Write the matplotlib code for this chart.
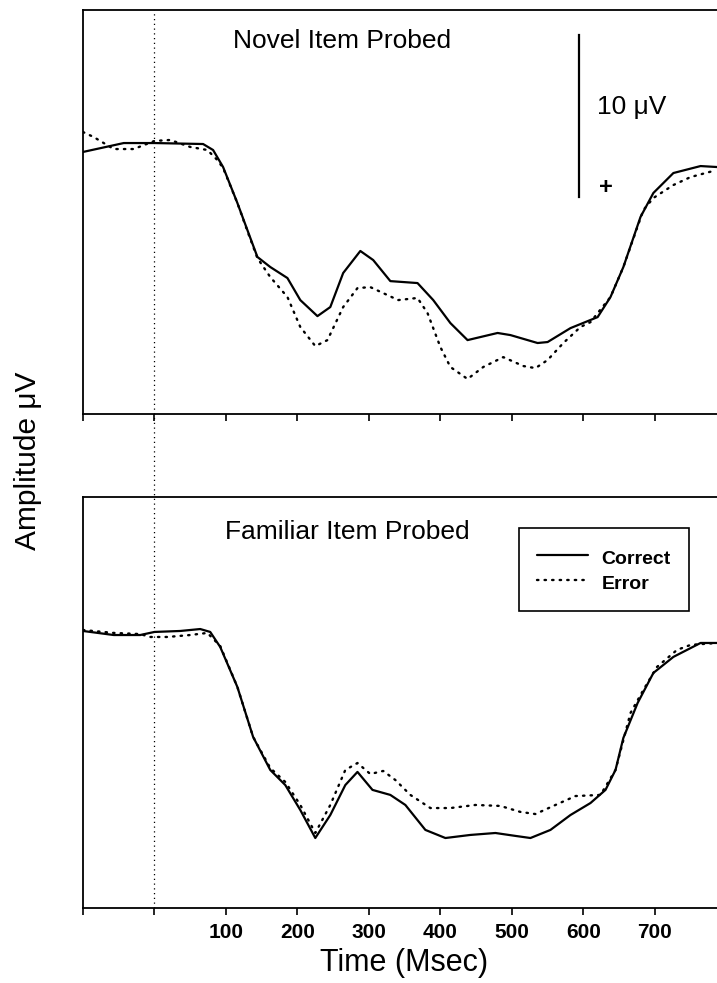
import matplotlib
matplotlib.use("Agg")
import matplotlib.pyplot as plt
from matplotlib.lines import Line2D

plt.rcParams['font.family'] = ['Liberation Sans', 'DejaVu Sans']

# ---- ERP waveforms (time in ms, amplitude in microvolts, positive plotted down) ----
novel_correct_t = [-100, -43, 0, 68, 82, 96, 116, 130, 144, 162, 186, 204, 228, 246,
                   264, 288, 306, 330, 368, 390, 414, 438, 480, 498, 536, 550, 582,
                   620, 638, 656, 680, 698, 726, 764, 787]
novel_correct_uv = [0.43, -0.12, -0.12, -0.06, 0.31, 1.36, 3.58, 5.25, 6.91, 7.53, 8.21,
                    9.57, 10.56, 10.0, 7.90, 6.54, 7.10, 8.40, 8.52, 9.57, 10.99, 12.04,
                    11.60, 11.73, 12.22, 12.16, 11.30, 10.62, 9.38, 7.53, 4.44, 2.96,
                    1.73, 1.30, 1.36]

novel_error_t = [-100, -85, -57, -29, 0, 22, 50, 74, 88, 96, 116, 130, 144, 162, 186,
                 204, 225, 242, 264, 284, 302, 320, 341, 368, 382, 400, 414, 438, 460,
                 488, 516, 533, 550, 572, 596, 610, 638, 656, 684, 698, 726, 750, 782]
novel_error_uv = [-0.80, -0.49, 0.25, 0.25, -0.25, -0.31, 0.12, 0.31, 0.93, 1.42, 3.58,
                  5.31, 6.98, 8.15, 9.38, 11.23, 12.41, 12.04, 10.0, 8.83, 8.77, 9.14,
                  9.57, 9.44, 10.37, 12.47, 13.70, 14.44, 13.70, 13.09, 13.64, 13.77,
                  13.27, 12.22, 11.23, 10.93, 9.38, 7.53, 4.01, 3.27, 2.47, 1.98, 1.60]

familiar_correct_t = [-100, -57, -20, 0, 36, 64, 78, 92, 116, 138, 162, 183, 204, 225,
                      246, 267, 284, 305, 330, 351, 379, 407, 442, 477, 505, 526, 554,
                      582, 610, 631, 645, 656, 676, 698, 726, 764, 787]
familiar_correct_uv = [0.0, 0.25, 0.25, 0.06, 0.0, -0.12, 0.06, 0.99, 3.46, 6.54, 8.58,
                       9.51, 11.05, 12.78, 11.36, 9.51, 8.70, 9.81, 10.12, 10.74, 12.28,
                       12.78, 12.59, 12.47, 12.65, 12.78, 12.28, 11.36, 10.62, 9.81,
                       8.58, 6.60, 4.44, 2.59, 1.60, 0.74, 0.74]

familiar_error_t = [-100, -57, -20, -6, 18, 50, 74, 92, 116, 138, 162, 183, 204, 225,
                    246, 267, 284, 302, 320, 337, 358, 386, 414, 449, 484, 512, 533,
                    561, 589, 624, 645, 666, 684, 703, 731, 750, 787]
familiar_error_uv = [-0.06, 0.12, 0.19, 0.37, 0.37, 0.25, 0.12, 0.93, 3.46, 6.54, 8.46,
                     9.32, 10.74, 12.47, 10.74, 8.58, 8.15, 8.83, 8.64, 9.20, 10.12,
                     10.93, 10.93, 10.74, 10.80, 11.17, 11.30, 10.74, 10.19, 10.12,
                     8.58, 5.06, 3.64, 2.22, 1.17, 0.86, 0.74]

time_ticks = [-100, 0, 100, 200, 300, 400, 500, 600, 700]
time_tick_labels = ['', '', '100', '200', '300', '400', '500', '600', '700']
scale_bar_uv = 10

W, H = 717, 983
fig = plt.figure(figsize=(W / 100, H / 100), dpi=100)


def box(x0, y0, x1, y1):
    return [x0 / W, 1 - y1 / H, (x1 - x0) / W, (y1 - y0) / H]


ax_top = fig.add_axes(box(83, 10, 717, 414))
ax_bot = fig.add_axes(box(83, 497, 717, 908))

solid_kw = dict(color='black', lw=1.6, solid_capstyle='round', solid_joinstyle='round')
dot_kw = dict(color='black', lw=1.7, linestyle=(0, (0.6, 2.6)), dash_capstyle='round')

ax_top.plot(novel_correct_t, novel_correct_uv, **solid_kw)
ax_top.plot(novel_error_t, novel_error_uv, **dot_kw)
l_cor, = ax_bot.plot(familiar_correct_t, familiar_correct_uv, label='Correct', **solid_kw)
l_err, = ax_bot.plot(familiar_error_t, familiar_error_uv, label='Error', **dot_kw)

for ax, ylim in ((ax_top, (16.6, -8.33)), (ax_bot, (17.1, -8.27))):
    ax.set_xlim(-100, 787)
    ax.set_ylim(*ylim)
    ax.set_yticks([])
    ax.set_xticks(time_ticks)
    ax.spines['right'].set_visible(False)
    for s in ('left', 'top', 'bottom'):
        ax.spines[s].set_linewidth(1.3)
    ax.tick_params(axis='x', direction='out', length=5, width=1.2, pad=6)

ax_top.set_xticklabels([])
ax_bot.set_xticklabels(time_tick_labels, fontsize=15, fontweight='bold')

# calibration bar: 10 microvolts, positive down
bar_x = 594
ax_top.plot([bar_x, bar_x], [-6.8, -6.8 + scale_bar_uv], color='black', lw=1.6)

fig.text(233 / W, 1 - 41 / H, 'Novel Item Probed', fontsize=19, va='center', ha='left')
fig.text(225 / W, 1 - 532 / H, 'Familiar Item Probed', fontsize=19, va='center', ha='left')
fig.text(597 / W, 1 - 107 / H, '10 \u03bcV', fontsize=19, va='center', ha='left')
fig.text(606 / W, 1 - 188 / H, '+', fontsize=17, fontweight='bold', va='center', ha='center')
fig.text(28 / W, 1 - 461 / H, 'Amplitude \u03bcV', fontsize=21.5, rotation=90,
         va='center', ha='center')
fig.text(404 / W, 1 - 963 / H, 'Time (Msec)', fontsize=22, va='center', ha='center')

leg = ax_bot.legend(handles=[l_cor, l_err], loc='upper left',
                    bbox_to_anchor=(519 / W, 1 - 528 / H), bbox_transform=fig.transFigure,
                    frameon=True, fancybox=False, edgecolor='black', framealpha=1,
                    prop=dict(weight='bold', size=14), handlelength=2.6, handleheight=1.3,
                    borderpad=0.95, labelspacing=0.2, borderaxespad=0, handletextpad=0.7)
leg.get_frame().set_linewidth(1.2)

# stimulus onset marker running through both panels
fig.canvas.draw()
x_disp = ax_top.transData.transform((0, 0))[0]
xf = fig.transFigure.inverted().transform((x_disp, 0))[0]
y_lo = ax_bot.get_position().y0
y_hi = ax_top.get_position().y1
fig.add_artist(Line2D([xf, xf], [y_lo, y_hi], transform=fig.transFigure,
                      color='black', lw=0.9, linestyle=(0, (1, 2.8))))

fig.savefig('out.png', dpi=100)
